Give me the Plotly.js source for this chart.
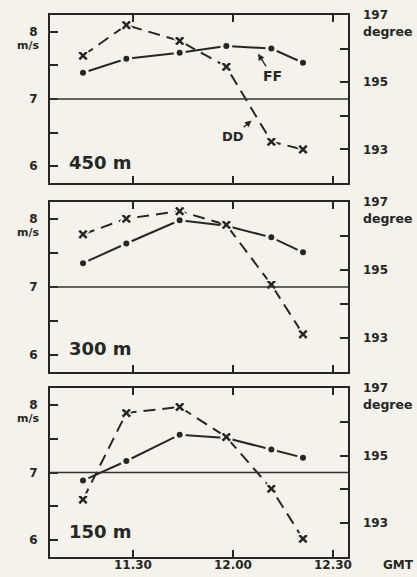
<!DOCTYPE html>
<html>
<head>
<meta charset="utf-8">
<script src="https://cdn.plot.ly/plotly-3.0.1.min.js"></script>
<style>html,body{margin:0;padding:0;background:#f4f2ea;}#chart{width:417px;height:577px;}</style>
</head>
<body>
<div id="chart"></div>
<script>
// Time of observation, minutes after 11:00 GMT
const times = [15, 28, 44, 58, 71.5, 81];
// Panel names
const panels = ['450 m', '300 m', '150 m'];
// Wind speed FF (m/s)
const ff450 = [7.39, 7.60, 7.69, 7.79, 7.75, 7.54];
const ff300 = [7.35, 7.64, 7.98, 7.90, 7.73, 7.51];
const ff150 = [6.88, 7.17, 7.56, 7.51, 7.34, 7.22];
// Wind direction DD (degree)
const dd450 = [195.79, 196.70, 196.23, 195.46, 193.23, 193.00];
const dd300 = [196.05, 196.51, 196.73, 196.33, 194.57, 193.11];
const dd150 = [193.70, 196.26, 196.44, 195.55, 194.02, 192.54];
// Tick labels
const xTickVals = [30, 60, 90];
const xTickText = ['11.30', '12.00', '12.30'];
const ffTickVals = [6, 6.5, 7, 7.5, 8];
const ffTickText = ['6', '', '7', '', '8'];
const ddTickVals = [193, 194, 195, 196, 197];
const ddTickText = ['193', '', '195', '', '197'];

const BG = '#f4f2ea';
const INK = '#262626';
const FONT = 'DejaVu Sans';

const ffSets = [ff450, ff300, ff150];
const ddSets = [dd450, dd300, dd150];
const domains = [[0.690, 1.0], [0.3413, 0.655], [0.0, 0.3118]];

const data = [];
const layout = {
  width: 417, height: 577,
  margin: {l: 50, r: 69, t: 15, b: 20},
  paper_bgcolor: BG, plot_bgcolor: BG,
  showlegend: false,
  font: {family: FONT, color: INK, size: 12, weight: 'bold'},
  shapes: [], annotations: []
};

for (let i = 0; i < 3; i++) {
  const xn = i === 0 ? '' : String(i + 1);
  const yl = String(2 * i + 1), yr = String(2 * i + 2);
  const yln = yl === '1' ? '' : yl;
  const xref = 'x' + xn, ylref = 'y' + yln, yrref = 'y' + yr;

  data.push({
    x: times, y: ffSets[i], xaxis: xref, yaxis: ylref,
    type: 'scatter', mode: 'lines+markers',
    line: {color: INK, width: 2},
    marker: {symbol: 'circle', size: 9, color: INK, line: {color: BG, width: 3}}
  });
  data.push({
    x: times, y: ddSets[i], xaxis: xref, yaxis: yrref,
    type: 'scatter', mode: 'lines+markers',
    line: {color: INK, width: 2, dash: '12px,7px'},
    marker: {symbol: 'x', size: 10, color: INK, line: {color: BG, width: 1.5}}
  });

  const last = i === 2;
  layout['xaxis' + xn] = {
    domain: [0, 1], anchor: ylref, range: [5.1, 94.5],
    tickvals: xTickVals, ticktext: last ? xTickText : ['', '', ''],
    showticklabels: last,
    ticks: 'inside', ticklen: 7, tickwidth: 2, tickcolor: INK,
    showline: true, linewidth: 2, linecolor: INK, mirror: 'ticks',
    showgrid: false, zeroline: false, ticklabelstandoff: -4,
    tickfont: {family: FONT, size: 12, color: INK, weight: 'bold'}
  };
  layout['yaxis' + yln] = {
    domain: domains[i], anchor: xref, range: [5.75, 8.25],
    tickvals: ffTickVals, ticktext: ffTickText,
    ticks: 'inside', ticklen: 8, tickwidth: 2, tickcolor: INK,
    showline: true, linewidth: 2, linecolor: INK, mirror: true,
    showgrid: false, zeroline: false, ticklabelstandoff: 8,
    tickfont: {family: FONT, size: 12, color: INK, weight: 'bold'}
  };
  layout['yaxis' + yr] = {
    domain: domains[i], anchor: xref, overlaying: ylref, side: 'right',
    range: [192, 197],
    tickvals: ddTickVals, ticktext: ddTickText,
    ticks: 'inside', ticklen: 8, tickwidth: 2, tickcolor: INK,
    showline: false, showgrid: false, zeroline: false, ticklabelstandoff: 14,
    tickfont: {family: FONT, size: 12, color: INK, weight: 'bold'}
  };
  // reference line at 7 m/s
  layout.shapes.push({type: 'line', xref: xref + ' domain', x0: 0, x1: 1,
    yref: ylref, y0: 7, y1: 7, line: {color: '#333', width: 1.5}});
  // unit labels
  layout.annotations.push({xref: 'paper', x: 0, xanchor: 'right', xshift: -9,
    yref: ylref, y: 7.8, yanchor: 'middle', text: 'm/s', showarrow: false,
    font: {family: FONT, size: 11, color: INK, weight: 'bold'}});
  layout.annotations.push({xref: 'paper', x: 1, xanchor: 'left', xshift: 13,
    yref: yrref, y: 196.5, yanchor: 'middle', text: 'degree', showarrow: false,
    font: {family: FONT, size: 12.5, color: INK, weight: 'bold'}});
  // panel label
  layout.annotations.push({xref: xref + ' domain', x: 0.057, xanchor: 'left',
    yref: ylref + ' domain', y: [0.125, 0.14, 0.148][i], yanchor: 'middle',
    text: panels[i], showarrow: false,
    font: {family: FONT, size: 18, color: INK, weight: 'bold'}});
}

layout.annotations.push({xref: 'paper', x: 1, xanchor: 'left', xshift: 33,
  yref: 'paper', y: 0, yanchor: 'top', yshift: 1, text: 'GMT', showarrow: false,
  font: {family: FONT, size: 12, color: INK, weight: 'bold'}});
// FF and DD labels with arrows (top panel)
layout.annotations.push({xref: 'x', yref: 'y', x: 67.2, y: 7.70, text: 'FF',
  showarrow: true, arrowhead: 2, arrowsize: 1, arrowwidth: 1.3, arrowcolor: INK,
  ax: 15, ay: 24, standoff: 2,
  font: {family: FONT, size: 14, color: INK, weight: 'bold'}});
layout.annotations.push({xref: 'x', yref: 'y', x: 66, y: 6.70, text: 'DD',
  showarrow: true, arrowhead: 2, arrowsize: 1, arrowwidth: 1.3, arrowcolor: INK,
  ax: -20, ay: 17, standoff: 2,
  font: {family: FONT, size: 13, color: INK, weight: 'bold'}});

Plotly.newPlot('chart', data, layout, {displayModeBar: false, staticPlot: true});
</script>
</body>
</html>
